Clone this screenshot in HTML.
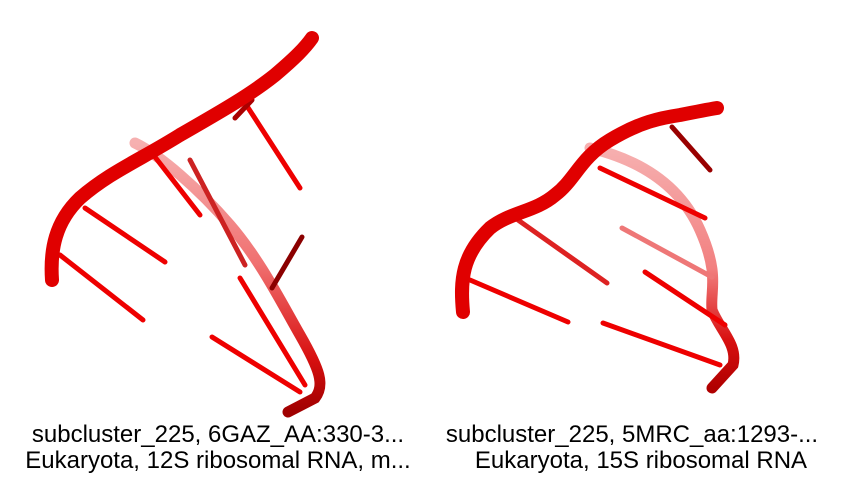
<!DOCTYPE html>
<html><head><meta charset="utf-8"><style>
body{margin:0;background:#fff;width:860px;height:480px;overflow:hidden}
svg{display:block}
text{font-family:"Liberation Sans",Arial,sans-serif;font-size:24px;fill:#000}
</style></head><body>
<svg width="860" height="480">
<defs>
<linearGradient id="fadeL" x1="0" y1="0" x2="0" y2="1">
<stop offset="0" stop-color="#f6b0b0"/><stop offset="0.45" stop-color="#f07070"/><stop offset="0.8" stop-color="#d81010"/><stop offset="1" stop-color="#a00000"/>
</linearGradient>
<linearGradient id="fadeR" x1="0" y1="0" x2="0" y2="1">
<stop offset="0" stop-color="#f6b0b0"/><stop offset="0.5" stop-color="#f28080"/><stop offset="0.8" stop-color="#d81010"/><stop offset="1" stop-color="#b00000"/>
</linearGradient>
</defs>
<g stroke-linecap="round" fill="none">
<path d="M135,143 C160,155 200,190 230,225 S280,300 300,335 S325,385 315,398 L288,412" stroke="url(#fadeL)" stroke-width="11"/>
<g stroke="#e00" stroke-width="5">
<line x1="85" y1="208" x2="165" y2="262"/>
<line x1="60" y1="255" x2="143" y2="320"/>
<line x1="155" y1="157" x2="200" y2="215"/>
<line x1="245" y1="103" x2="300" y2="188"/>
<line x1="190" y1="160" x2="245" y2="265" stroke="#c22"/>
<line x1="302" y1="237" x2="272" y2="288" stroke="#8b0000"/>
<line x1="240" y1="278" x2="305" y2="385"/>
<line x1="212" y1="337" x2="300" y2="392"/>
<line x1="235" y1="118" x2="252" y2="100" stroke="#a00"/>
</g>
<path d="M52,280 C50,250 55,222 80,198 C110,172 140,160 180,135 C220,112 250,95 275,75 C295,58 305,48 312,38" stroke="#e00000" stroke-width="14"/>
</g>
<g stroke-linecap="round" fill="none">
<path d="M590,148 C640,160 680,185 700,230 S710,290 712,310 C720,330 738,345 733,365 L712,388" stroke="url(#fadeR)" stroke-width="11"/>
<g stroke="#e00" stroke-width="5">
<line x1="470" y1="280" x2="568" y2="322"/>
<line x1="518" y1="220" x2="607" y2="283" stroke="#d22"/>
<line x1="600" y1="168" x2="705" y2="218"/>
<line x1="672" y1="127" x2="710" y2="170" stroke="#900"/>
<line x1="622" y1="228" x2="712" y2="277" stroke="#e77"/>
<line x1="645" y1="272" x2="725" y2="325"/>
<line x1="603" y1="323" x2="720" y2="365"/>
</g>
<path d="M463,312 C460,280 462,255 490,228 C510,212 535,212 555,195 C575,180 580,158 610,140 C640,122 660,118 680,115 C695,112 705,110 717,108" stroke="#e00000" stroke-width="14"/>
</g>
<text x="218" y="442" text-anchor="middle">subcluster_225, 6GAZ_AA:330-3...</text>
<text x="218" y="468" text-anchor="middle">Eukaryota, 12S ribosomal RNA, m...</text>
<text x="632" y="442" text-anchor="middle">subcluster_225, 5MRC_aa:1293-...</text>
<text x="641" y="468" text-anchor="middle">Eukaryota, 15S ribosomal RNA</text>
</svg>
</body></html>
